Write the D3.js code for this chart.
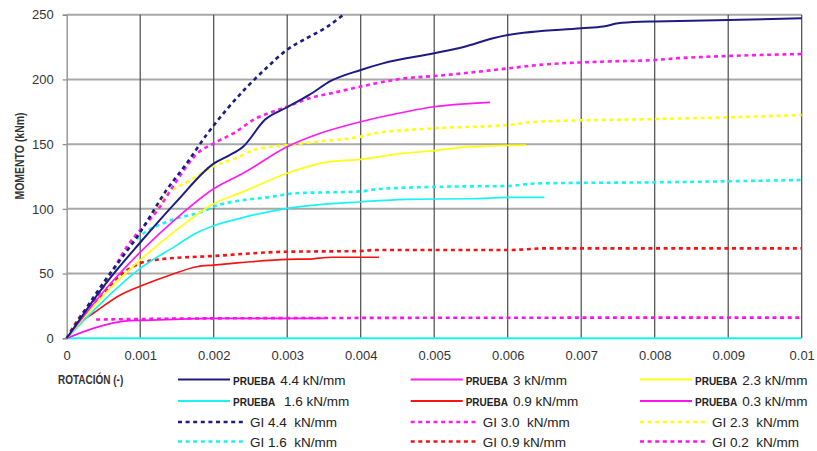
<!DOCTYPE html>
<html><head><meta charset="utf-8">
<script src="https://cdn.jsdelivr.net/npm/d3@7"></script>
<style>html,body{margin:0;padding:0;background:#fff;}svg{display:block;font-family:"Liberation Sans",Arial,sans-serif;}</style>
</head><body>
<svg id="c" width="817" height="451"></svg>
<script>
// ---- data ----
const xTicks = [0,0.001,0.002,0.003,0.004,0.005,0.006,0.007,0.008,0.009,0.01];
const xTickLabels = ["0","0.001","0.002","0.003","0.004","0.005","0.006","0.007","0.008","0.009","0.01"];
const yTicks = [0,50,100,150,200,250];

const prueba44 = [[0,0],[0.0005,40],[0.001,74],[0.0015,106],[0.002,135],[0.0022,141],[0.0024,148],[0.0027,169],[0.003,178.5],[0.0033,188],[0.0036,199],[0.004,207.3],[0.0043,212.4],[0.005,220.2],[0.0054,225],[0.0058,231.8],[0.006,234.3],[0.007,239.5],[0.0073,240.8],[0.0075,243.4],[0.0078,244.6],[0.008,244.8],[0.009,245.9],[0.01,247.2]];
const prueba30 = [[0,0],[0.0005,36],[0.001,66.5],[0.0015,93],[0.002,115.5],[0.0024,127.5],[0.003,148],[0.00345,158.4],[0.004,167.3],[0.0044,172.5],[0.005,178.9],[0.00576,182.3]];
const prueba23 = [[0,0],[0.0005,33],[0.001,60.5],[0.0015,84],[0.002,104],[0.0024,113.3],[0.003,127.5],[0.0035,135.7],[0.004,138.3],[0.0046,143],[0.005,145],[0.0055,148.1],[0.00625,149.3]];
const prueba16 = [[0,0],[0.0005,29],[0.001,54],[0.0015,72],[0.00175,81],[0.002,87],[0.00236,92.7],[0.003,100.4],[0.004,105.5],[0.00463,107.4],[0.0055,107.8],[0.006,108.9],[0.0065,108.9]];
const prueba09 = [[0,0],[0.00018,12],[0.00036,19.3],[0.00073,33.5],[0.001,40.2],[0.00141,48.9],[0.00177,55.3],[0.002,56.6],[0.00236,58.4],[0.003,61],[0.0033,61.2],[0.0036,62.6],[0.00425,62.6]];
const prueba03 = [[0,0],[0.00036,7.7],[0.00086,13.6],[0.001,13.8],[0.002,15.4],[0.0035,15.4]];
const prueba00 = [[0,0],[0.01,0]];
const gi44 = [[0,0],[0.0005,43],[0.001,82],[0.00136,114.6],[0.00163,135],[0.0019,157],[0.00218,177],[0.00245,194],[0.00272,209],[0.003,223],[0.00327,232],[0.00354,240.5],[0.00376,249.8]];
const gi30 = [[0,0],[0.0005,40],[0.00082,70.8],[0.00127,101.7],[0.0015,122],[0.00178,143],[0.002,150.6],[0.00227,158.4],[0.00254,168.7],[0.003,179],[0.0033,185.4],[0.0036,189.3],[0.004,194.5],[0.0046,200.8],[0.005,202.6],[0.006,208.5],[0.0064,211.1],[0.00727,213.7],[0.008,215],[0.0083,216.3],[0.009,218.1],[0.01,219.6]];
const gi23 = [[0,0],[0.0005,42],[0.001,82.4],[0.0014,113],[0.00165,121],[0.002,133],[0.0023,139],[0.00254,145.5],[0.003,149.3],[0.0034,151.9],[0.004,155.8],[0.0042,158.4],[0.005,162.2],[0.006,164.8],[0.0064,167.3],[0.008,169.4],[0.009,170.7],[0.01,172.5]];
const gi16 = [[0,0],[0.00059,47.6],[0.00082,68.2],[0.001,79],[0.00136,90],[0.0019,99.1],[0.002,101.7],[0.00227,105.5],[0.0028,109.4],[0.0031,112],[0.004,113.5],[0.0042,115.1],[0.0051,117.1],[0.006,117.7],[0.0064,119.7],[0.008,120.5],[0.01,122.3]];
const gi09 = [[0,0],[0.00018,16.7],[0.00045,31.5],[0.00073,48.9],[0.001,57.9],[0.00127,61],[0.002,63.6],[0.003,66.9],[0.004,67.4],[0.00417,68.2],[0.006,68.2],[0.00653,69.5],[0.01,69.5]];
const gi02 = [[0.0004,14.5],[0.002,15.4],[0.006,15.9],[0.01,16]];

const seriesNames = ["PRUEBA|4.4 kN/mm","PRUEBA|3 kN/mm","PRUEBA|2.3 kN/mm","PRUEBA| 1.6 kN/mm","PRUEBA|0.9 kN/mm","PRUEBA|0.3 kN/mm",
  "GI 4.4  kN/mm","GI 3.0  kN/mm","GI 2.3  kN/mm","GI 1.6  kN/mm","GI 0.9 kN/mm","GI 0.2  kN/mm"];
const seriesData = [prueba44,prueba30,prueba23,prueba16,prueba09,prueba03,gi44,gi30,gi23,gi16,gi09,gi02];
const seriesColors = ["#1c1c84","#ff1cf0","#ffff10","#18f4f4","#f41414","#ff10ee","#1c1c84","#ff1cf0","#ffff10","#18f4f4","#f41414","#ff10ee"];
const seriesDashed = [false,false,false,false,false,false,true,true,true,true,true,true];

// ---- layout ----
const svg = d3.select("#c");
const x = d3.scaleLinear().domain([0,0.01]).range([66.7,801.7]);
const y = d3.scaleLinear().domain([0,250]).range([338.3,14.7]);

// horizontal grid
svg.append("g").selectAll("line").data(yTicks.filter(d=>d>0)).join("line")
  .attr("x1",x(0)).attr("x2",x(0.01)).attr("y1",d=>y(d)).attr("y2",d=>y(d))
  .attr("stroke","#a8a8a8").attr("stroke-width",2);
// vertical grid
svg.append("g").selectAll("line").data(xTicks.filter(d=>d>0)).join("line")
  .attr("x1",d=>x(d)).attr("x2",d=>x(d)).attr("y1",y(250)).attr("y2",y(0))
  .attr("stroke","#4a4a4a").attr("stroke-width",1.2);

// y axis
const yAxis = d3.axisLeft(y).tickValues(yTicks).tickSize(4).tickPadding(9).tickFormat(d3.format("d"));
const ya = svg.append("g").attr("transform",`translate(${x(0)},0)`).call(yAxis);
ya.select(".domain").attr("stroke","#999").attr("stroke-width",1.5);
ya.selectAll(".tick line").attr("stroke","#888").attr("stroke-width",1.2);
ya.selectAll("text").attr("font-size",13).attr("fill","#333").attr("font-family","Liberation Sans, Arial, sans-serif");

// x axis
const xAxis = d3.axisBottom(x).tickValues(xTicks).tickSize(0).tickPadding(12)
  .tickFormat((d,i)=>xTickLabels[i]);
const xa = svg.append("g").attr("transform",`translate(0,${y(0)})`).call(xAxis);
xa.select(".domain").remove();
xa.selectAll("text").attr("font-size",13).attr("fill","#333").attr("font-family","Liberation Sans, Arial, sans-serif");

// series
const line = d3.line().x(d=>x(d[0])).y(d=>y(d[1])).curve(d3.curveMonotoneX);
const order = [11,10,9,8,7,6,5,4,3,2,1,0];
svg.append("path").attr("d",line(prueba00)).attr("fill","none").attr("stroke","#18f4f4").attr("stroke-width",2);
svg.append("g").selectAll("path").data(order).join("path")
  .attr("d",i=>line(seriesData[i])).attr("fill","none")
  .attr("stroke",i=>seriesColors[i])
  .attr("stroke-width",i=>seriesDashed[i]?2.6:(i===0?2:1.7))
  .attr("stroke-dasharray",i=>seriesDashed[i]?"4,3.6":null);

// axis titles
svg.append("text").attr("transform","translate(24,156) rotate(-90) scale(1,1.15)")
  .attr("text-anchor","middle").attr("font-size",10.5).attr("font-weight","bold").attr("fill","#333").text("MOMENTO (kNm)");
svg.append("text").attr("transform","translate(58,384) scale(1,1.2)")
  .attr("font-size",10).attr("font-weight","bold").attr("fill","#333").text("ROTACIÓN (-)");

// legend
const colX = [178,410.7,640];
const rowY = [379.5,401,422,441.5];
const lg = svg.append("g");
seriesNames.forEach((name,i)=>{
  const c = i%3, r = Math.floor(i/3);
  const x0 = colX[c], yy = rowY[r];
  const dashed = seriesDashed[i];
  const len = dashed ? 68 : 52;
  lg.append("line").attr("x1",x0).attr("x2",x0+len).attr("y1",yy).attr("y2",yy)
    .attr("stroke",seriesColors[i]).attr("stroke-width",dashed?2.6:2.2)
    .attr("stroke-dasharray",dashed?"4,3.6":null);
  const t = lg.append("text").attr("x",x0+len+(dashed?4:3)).attr("y",yy+5).attr("fill","#222")
    .attr("xml:space","preserve").style("white-space","pre");
  if(name.indexOf("|")>=0){
    const [a,b] = name.split("|");
    t.append("tspan").attr("font-size",10).attr("font-weight","bold").text(a);
    t.append("tspan").attr("font-size",13.5).attr("dx",5).text(b);
  } else {
    t.attr("font-size",13.5).text(name);
  }
});
</script>
</body></html>
